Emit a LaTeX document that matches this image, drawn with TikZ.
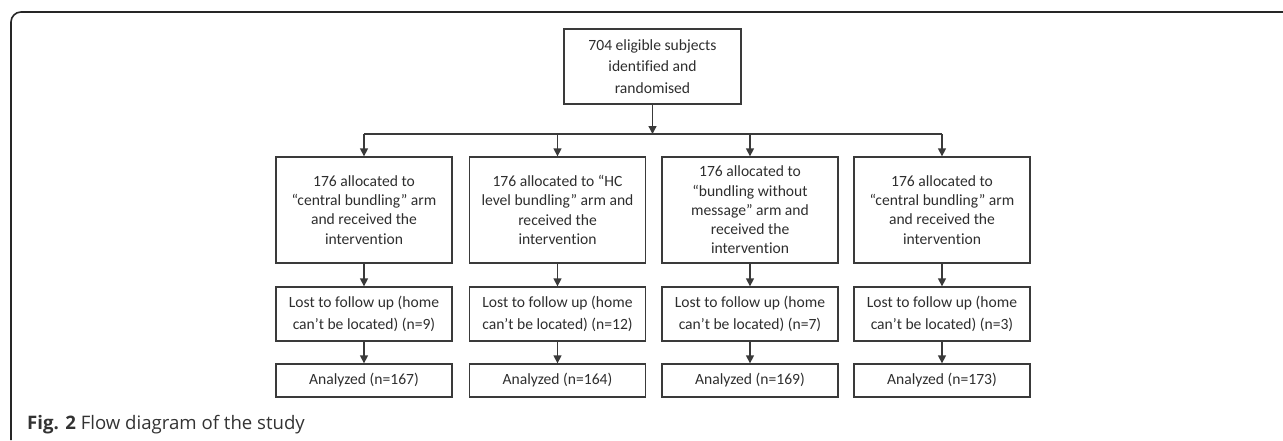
\documentclass[tikz,border=0pt]{standalone}
\usepackage{fontspec}
\setmainfont{Carlito}[Ligatures={NoCommon,TeX}]
\newfontfamily\capfont{Open Sans}
\usetikzlibrary{arrows.meta}
\definecolor{ln}{HTML}{3A3A3A}
\definecolor{tx}{HTML}{2E2E2E}
\tikzset{
  box/.style={draw=ln, line width=1.3pt, text=tx, align=center, inner sep=0pt,
    font=\fontsize{15.6}{21.7}\selectfont},
  boxb/.style={box, font=\fontsize{15.6}{19.2}\selectfont},
  arr/.style={draw=ln, line width=1.3pt, -{Triangle[length=8pt,width=8pt]}},
  lnk/.style={draw=ln, line width=1.3pt}
}
\begin{document}
\begin{tikzpicture}[x=1pt,y=-1pt]
\useasboundingbox (0,0) rectangle (1283,440);
% frame
\draw[line width=1.6pt, color=black!85, rounded corners=10pt] (11,440) -- (11,12) -- (1290,12);
% top box
\node[box, minimum width=177pt, minimum height=75pt] (top) at (652.5,66.5) {704 eligible subjects\\identified and\\randomised};
% level 2
\foreach \i/\cx/\t in {1/364/{176 allocated to\\``central bundling'' arm\\and received the\\intervention},
  2/557.5/{176 allocated to ``HC\\level bundling'' arm and\\received the\\intervention},
  3/750/{176 allocated to\\``bundling without\\message'' arm and\\received the\\intervention},
  4/942/{176 allocated to\\``central bundling'' arm\\and received the\\intervention}}{
  \node[boxb, minimum width=176pt, minimum height=106pt] (a\i) at (\cx,210) {\t};
}
\foreach \i/\cx/\n in {1/364/9,2/557.5/12,3/750/7,4/942/3}{
  \node[box, minimum width=176pt, minimum height=54pt] (b\i) at (\cx,314) {Lost to follow up (home\\can’t be located) (n=\n)};
}
\foreach \i/\cx/\n in {1/364/167,2/557.5/164,3/750/169,4/942/173}{
  \node[box, minimum width=176pt, minimum height=33pt] (c\i) at (\cx,380.5) {Analyzed (n=\n)};
}
% bar
\coordinate (bar) at (652.5,134);
\coordinate (barL) at (364,134);
\coordinate (barR) at (942,134);
\draw[lnk] (barL) -- (barR);
\draw[arr] (top.south) -- (bar);
\foreach \i in {1,2,3,4}{
  \draw[arr] (a\i.north |- bar) -- (a\i.north);
  \draw[arr] (a\i.south) -- (b\i.north);
  \draw[arr] (b\i.south) -- (c\i.north);
}
% caption
\node[anchor=base west, inner sep=0pt, text=black!80, font=\capfont\fontsize{18.6}{20}\selectfont] (cap) at (27,429) {\textbf{Fig. 2} Flow diagram of the study};
\end{tikzpicture}
\end{document}
